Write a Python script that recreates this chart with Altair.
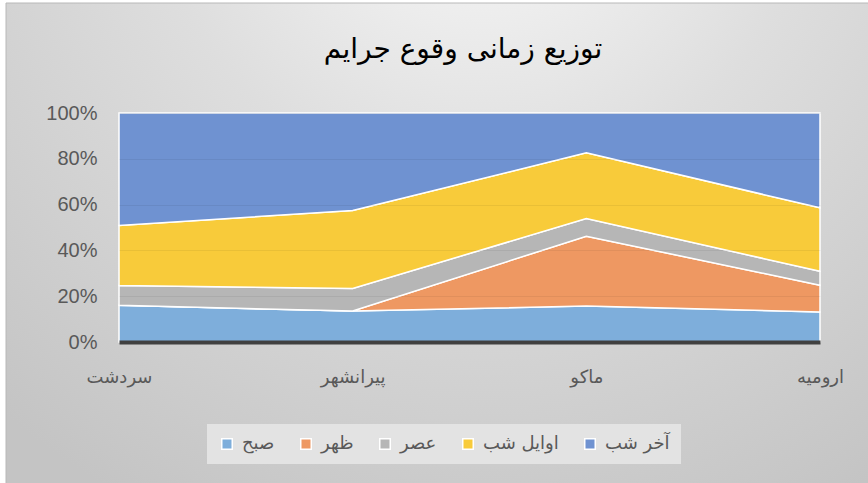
import altair as alt
import pandas as pd

cities = ["سردشت", "پیرانشهر", "ماکو", "ارومیه"]
series = ["صبح", "ظهر", "عصر", "اوایل شب", "آخر شب"]
colors = ["#7eaedb", "#ee9862", "#b6b6b6", "#f8cb3a", "#6f92d1"]

sobh = [16.0, 13.5, 15.7, 13.1]
zohr = [0.0, 0.0, 30.5, 11.7]
asr = [8.7, 9.9, 7.7, 6.1]
avayel = [26.2, 34.0, 28.7, 27.7]
akhar = [49.1, 42.6, 17.4, 41.4]

title_text = "توزیع زمانی وقوع جرایم"

vals = [sobh, zohr, asr, avayel, akhar]
rows = []
for si, (s, v) in enumerate(zip(series, vals)):
    for c, x in zip(cities, v):
        rows.append({"city": c, "series": s, "value": x, "rank": si})
df = pd.DataFrame(rows)

W, H = 701, 229
PL, PT, PR, PB = 119, 113, 48, 141

one = pd.DataFrame({"a": [0]})

bg = alt.Chart(one).mark_rect(
    fill=alt.RadialGradient(
        gradient="radial",
        x1=0.55, y1=0.05, r1=0.0,
        x2=0.55, y2=0.05, r2=0.85,
        stops=[
            alt.GradientStop(offset=0, color="#fbfbfb"),
            alt.GradientStop(offset=0.45, color="#dedede"),
            alt.GradientStop(offset=1, color="#c4c4c4"),
        ],
    ),
    stroke="#b8b8b8",
    strokeWidth=1,
).encode(
    x=alt.value(6 - PL),
    x2=alt.value(868 - PL + 2),
    y=alt.value(3 - PT),
    y2=alt.value(483 - PT + 2),
)

title = alt.Chart(one).mark_text(
    font="DejaVu Sans", fontSize=28, color="#000000", align="center", baseline="middle"
).encode(
    x=alt.value(463 - PL),
    y=alt.value(50 - PT),
    text=alt.value(title_text),
)

area = alt.Chart(df).mark_area(stroke="white", strokeWidth=1.5, opacity=1).encode(
    x=alt.X("city:N", sort=cities, scale=alt.Scale(type="point", padding=0),
            axis=alt.Axis(title=None, labelAngle=0, labelFontSize=18,
                          labelColor="#595959", labelPadding=26,
                          domainColor="#404040", domainWidth=4,
                          ticks=False, grid=False, zindex=2,
                          labelFont="DejaVu Sans")),
    y=alt.Y("value:Q", stack="normalize",
            axis=alt.Axis(title=None, format="%", values=[0, 0.2, 0.4, 0.6, 0.8, 1.0],
                          labelFontSize=20, labelColor="#595959", labelPadding=22,
                          ticks=False, domain=False, grid=True, zindex=1,
                          gridColor="#000000", gridOpacity=0.06,
                          labelFont="Liberation Sans")),
    color=alt.Color("series:N", sort=series,
                    scale=alt.Scale(domain=series, range=colors),
                    legend=alt.Legend(title=None, orient="none", legendX=88, legendY=311,
                                      direction="horizontal", columns=5,
                                      symbolType="square", symbolSize=110,
                                      labelFontSize=18, labelColor="#595959",
                                      labelFont="DejaVu Sans",
                                      fillColor="#e3e3e3", padding=11,
                                      columnPadding=22, labelOffset=6)),
    order=alt.Order("rank:Q", sort="ascending"),
)

chart = alt.layer(bg, area, title).properties(
    width=W, height=H,
    autosize=alt.AutoSizeParams(type="none"),
    padding={"left": PL, "top": PT, "right": PR, "bottom": PB},
).configure(background="white").configure_view(stroke=None)

chart.save("out.html", embed_options={"renderer": "svg", "actions": False})
